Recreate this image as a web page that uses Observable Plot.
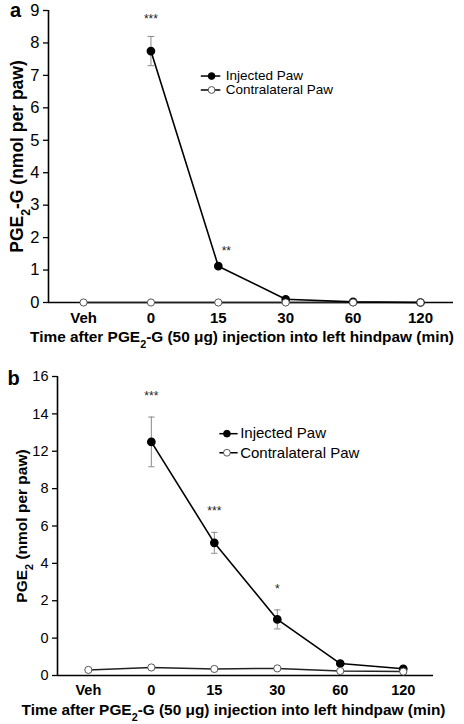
<!DOCTYPE html>
<html><head><meta charset="utf-8">
<script src="https://cdn.jsdelivr.net/npm/d3@7"></script>
<script src="https://cdn.jsdelivr.net/npm/@observablehq/plot@0.6"></script>
<style>
body{margin:0;background:#fff;width:464px;height:724px;overflow:hidden;position:relative;font-family:"Liberation Sans",Arial,Helvetica,sans-serif}
#a,#b{position:absolute;left:0}
#a{top:0}
#b{top:360px}
</style></head><body>
<div id="a"></div><div id="b"></div>
<script>
// ---- data ----
const categories = ["Veh", "0", "15", "30", "60", "120"];

const injectedA    = [null, 7.75, 1.12, 0.10, 0.02, 0.00];
const injectedErrA = [null, 0.45, null, null, null, null];
const contraA      = [0, 0, 0, 0, 0, 0];
const starsA       = ["", "***", "**", "", "", ""];
const yTicksA      = [0, 1, 2, 3, 4, 5, 6, 7, 8, 9];
const yTickLabelsA = ["0", "1", "2", "3", "4", "5", "6", "7", "8", "9"];

const injectedB    = [null, 12.5, 7.1, 3.0, 0.64, 0.36];
const injectedErrB = [null, 1.33, 0.56, 0.51, null, null];
const contraB      = [0.30, 0.43, 0.35, 0.38, 0.24, 0.21];
const starsB       = ["", "***", "***", "*", "", ""];
const yTicksB      = [0, 2, 4, 6, 8, 10, 12, 14, 16];
const yTickLabelsB = ["0", "0", "2", "4", "6", "8", "12", "14", "16"];

const legendLabels = ["Injected Paw", "Contralateral Paw"];
const xTitle = "Time after PGE\u2082-G (50 \u03bcg) injection into left hindpaw (min)";
const yTitleA = "PGE\u2082-G (nmol per paw)";
const yTitleB = "PGE\u2082 (nmol per paw)";

const FONT = '"Liberation Sans", Arial, Helvetica, sans-serif';

function rows(inj, err, con, stars) {
  return categories.map((c, i) => ({i, c, inj: inj[i], err: err[i], con: con[i], star: stars[i]}));
}

function panel(o) {
  const data = rows(o.inj, o.err, o.con, o.stars);
  const injData = data.filter(d => d.inj != null);
  const errData = data.filter(d => d.err != null);
  const capW = o.capW;
  const lg = o.legend;
  const legendRows = legendLabels.map((t, k) => ({t, k, y: lg.y[k]}));
  return Plot.plot({
    width: 464, height: o.height,
    marginLeft: o.ml, marginRight: o.mr, marginTop: o.mt, marginBottom: o.mb,
    style: {fontFamily: FONT, background: "white", color: "black", overflow: "visible"},
    x: {domain: o.xDomain, axis: null},
    y: {domain: o.yDomain, axis: null},
    marks: [
      // axes
      Plot.axisY({ticks: o.yTicks, tickFormat: (d, k) => o.yLabels[k], tickSize: 5, tickPadding: 4,
                  fontSize: o.yTickFont, strokeWidth: 1.3, label: null}),
      Plot.axisX({ticks: [0,1,2,3,4,5], tickFormat: i => categories[i], tickSize: 0, tickPadding: o.xPad,
                  fontSize: o.xTickFont, fontWeight: "bold", label: null}),
      Plot.ruleX([o.xDomain[0]], {stroke: "black", strokeWidth: 1.6}),
      Plot.ruleY([0], {stroke: "black", strokeWidth: 1.6}),
      // error bars
      Plot.ruleX(errData, {x: "i", y1: d => d.inj - d.err, y2: d => d.inj + d.err, stroke: "#8a8a8a", strokeWidth: 1}),
      Plot.link(errData, {x1: d => d.i - capW, x2: d => d.i + capW, y1: d => d.inj + d.err, y2: d => d.inj + d.err, stroke: "#8a8a8a", strokeWidth: 1}),
      Plot.link(errData, {x1: d => d.i - capW, x2: d => d.i + capW, y1: d => d.inj - d.err, y2: d => d.inj - d.err, stroke: "#8a8a8a", strokeWidth: 1}),
      // series
      Plot.line(data, {x: "i", y: "con", stroke: "#222", strokeWidth: 1.5}),
      Plot.line(injData, {x: "i", y: "inj", stroke: "black", strokeWidth: 1.6}),
      Plot.dot(injData, {x: "i", y: "inj", r: 3.6, fill: "black", stroke: "black"}),
      Plot.dot(data, {x: "i", y: "con", r: 3.6, fill: "white", stroke: "#444", strokeWidth: 0.9}),
      // stars
      Plot.text(data.filter(d => d.star && !o.sideStar.includes(d.i)), {x: "i", y: d => d.inj + (d.err || 0), text: "star",
                dy: o.starDy, fontSize: 12, fill: "#222"}),
      Plot.text(data.filter(d => d.star && o.sideStar.includes(d.i)), {x: "i", y: "inj", text: "star",
                dy: o.sideDy, dx: o.sideDx, fontSize: 12, fill: "#222"}),
      // legend
      Plot.link(legendRows, {x1: lg.x1, x2: lg.x2, y1: "y", y2: "y", stroke: "black", strokeWidth: 1.5}),
      Plot.dot(legendRows, {x: lg.xd, y: "y", r: 3.4, fill: d => d.k === 0 ? "black" : "white", stroke: d => d.k === 0 ? "black" : "#444", strokeWidth: 0.9}),
      Plot.text(legendRows, {x: lg.xt, y: "y", text: "t", textAnchor: "start", fontSize: lg.font, fill: "black"}),
      // titles
      Plot.text([o.yTitle], {frameAnchor: "left", textAnchor: "middle", lineAnchor: "middle", dx: o.yTitleDx, rotate: -90,
                fontSize: o.yTitleFont, fontWeight: "bold", fill: "black"}),
      Plot.text([xTitle], {frameAnchor: "bottom", textAnchor: "middle", lineAnchor: "middle", dx: o.xTitleDx, dy: o.xTitleDy,
                fontSize: 15.4, fontWeight: "bold", fill: "black"}),
      Plot.text([o.letter], {frameAnchor: "top-left", textAnchor: "middle", lineAnchor: "top", dx: o.letterDx, dy: o.letterDy,
                fontSize: 20, fontWeight: "bold", fill: "black"})
    ]
  });
}

function subscripts(svg) {
  svg.querySelectorAll("text").forEach(t => {
    if (!t.textContent.includes("\u2082")) return;
    const parts = t.textContent.split("\u2082");
    t.textContent = "";
    parts.forEach((p, k) => {
      if (k > 0) {
        const s = document.createElementNS("http://www.w3.org/2000/svg", "tspan");
        s.setAttribute("baseline-shift", "sub");
        s.setAttribute("font-size", "70%");
        s.textContent = "2";
        t.appendChild(s);
      }
      const n = document.createElementNS("http://www.w3.org/2000/svg", "tspan");
      n.textContent = p;
      t.appendChild(n);
    });
  });
  return svg;
}

const svgA = panel({
  inj: injectedA, err: injectedErrA, con: contraA, stars: starsA,
  height: 345, ml: 48, mr: 11, mt: 10, mb: 43,
  xDomain: [-0.52, 5.49], yDomain: [0, 9], yTicks: yTicksA, yLabels: yTickLabelsA,
  yTickFont: 16.5, xTickFont: 15,
  xPad: 10, capW: 0.05, starDy: -17, sideStar: [2], sideDx: 8, sideDy: -15,
  legend: {x1: 1.74, x2: 2.03, xd: 1.9, xt: 2.11, y: [6.98, 6.55], font: 13.5},
  yTitle: yTitleA, yTitleFont: 17.5, yTitleDx: -31, xTitleDx: -9, xTitleDy: 35, letter: "a", letterDx: -33, letterDy: -8
});
const svgB = panel({
  inj: injectedB, err: injectedErrB, con: contraB, stars: starsB,
  height: 364, ml: 57, mr: 31, mt: 16, mb: 49,
  xDomain: [-0.49, 5.48], yDomain: [0, 16], yTicks: yTicksB, yLabels: yTickLabelsB,
  yTickFont: 14.5, xTickFont: 14.5,
  xPad: 9, capW: 0.05, starDy: -21, sideStar: [], sideDx: 0, sideDy: 0,
  legend: {x1: 2.08, x2: 2.37, xd: 2.2, xt: 2.41, y: [12.94, 11.92], font: 15},
  yTitle: yTitleB, yTitleFont: 15.5, yTitleDx: -35, xTitleDx: -12, xTitleDy: 35, letter: "b", letterDx: -44, letterDy: -6
});
document.getElementById("a").appendChild(subscripts(svgA));
document.getElementById("b").appendChild(subscripts(svgB));
</script>
</body></html>
